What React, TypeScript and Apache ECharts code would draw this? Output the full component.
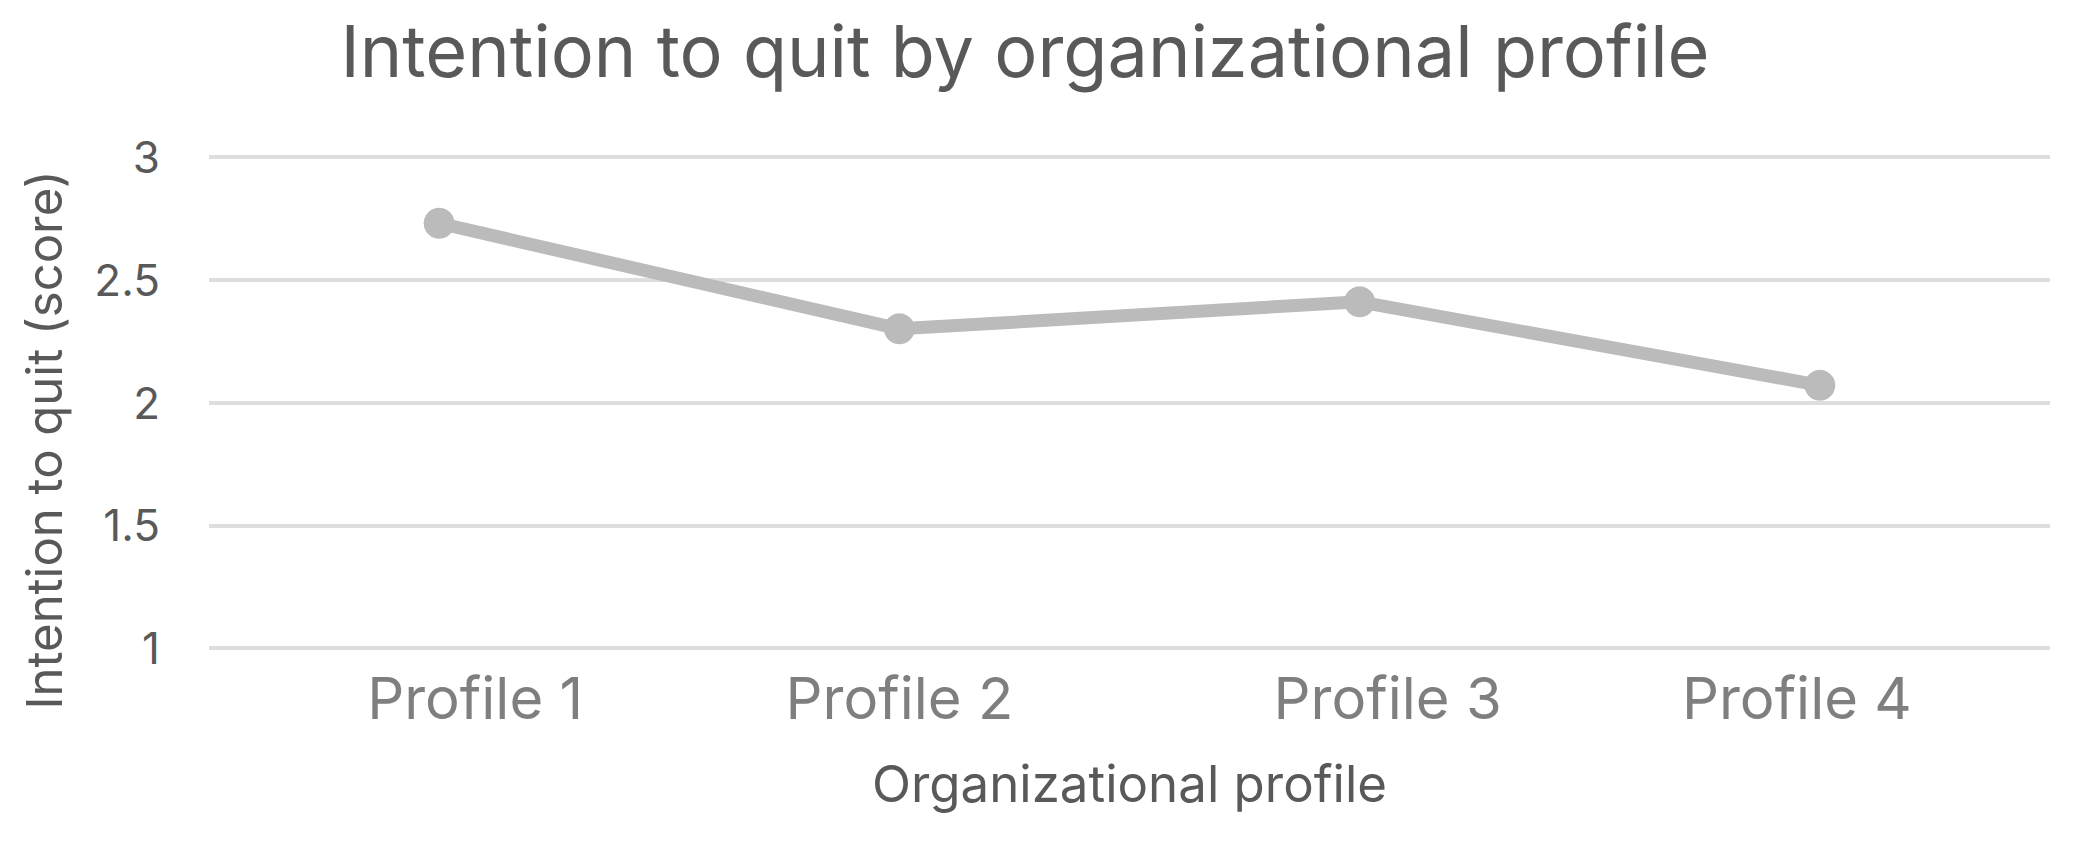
import React, { useEffect, useRef } from "react";
import * as echarts from "echarts";

const titleText = "Intention to quit by organizational profile";
const categories = ["Profile 1", "Profile 2", "Profile 3", "Profile 4"];
const scores = [2.73, 2.30, 2.41, 2.07];
const yTitle = "Intention to quit (score)";
const xTitle = "Organizational profile";
const yMin = 1;
const yMax = 3;
const yStep = 0.5;

// layout only: horizontal shift of each category label (px)
const labelShift = [36, 0, 28, -23];

const FONT = "Inter, 'Noto Sans', sans-serif";

export default function App() {
  const ref = useRef<HTMLDivElement>(null);
  useEffect(() => {
    if (!ref.current) return;
    const chart = echarts.init(ref.current, undefined, { renderer: "svg" });
    chart.setOption({
      animation: false,
      backgroundColor: "#ffffff",
      title: {
        text: titleText,
        left: 1025,
        top: 14,
        padding: 0,
        textAlign: "center",
        textStyle: { fontFamily: FONT, fontSize: 72, fontWeight: "normal", color: "#595959" },
      },
      grid: { left: 209, right: 23, top: 157, bottom: 193, containLabel: false },
      xAxis: {
        type: "category",
        boundaryGap: true,
        data: categories.map((c, i) => ({
          value: c,
          textStyle: {
            padding: labelShift[i] >= 0 ? [0, 0, 0, 2 * labelShift[i]] : [0, -2 * labelShift[i], 0, 0],
          },
        })),
        axisLine: { show: false },
        axisTick: { show: false },
        axisLabel: { interval: 0, margin: 21, fontFamily: FONT, fontSize: 58, color: "#7f7f7f" },
        name: xTitle,
        nameLocation: "middle",
        nameGap: 110,
        nameTextStyle: { fontFamily: FONT, fontSize: 51, color: "#595959" },
      },
      yAxis: {
        type: "value",
        min: yMin,
        max: yMax,
        interval: yStep,
        axisLine: { show: false },
        axisTick: { show: false },
        axisLabel: { margin: 49, fontFamily: FONT, fontSize: 44, color: "#595959" },
        splitLine: { lineStyle: { color: "#dedede", width: 4 } },
      },
      graphic: [
        {
          type: "text",
          x: 44,
          y: 440,
          rotation: Math.PI / 2,
          style: {
            text: yTitle,
            fontFamily: FONT,
            fontSize: 49,
            fill: "#595959",
            align: "center",
            verticalAlign: "middle",
          },
        },
      ],
      series: [
        {
          type: "line",
          data: scores,
          symbol: "circle",
          symbolSize: 31,
          lineStyle: { color: "#bbbbbb", width: 13 },
          itemStyle: { color: "#bbbbbb" },
          emphasis: { disabled: true },
        },
      ],
    });
    return () => chart.dispose();
  }, []);
  return (
    <div
      ref={ref}
      style={{ position: "fixed", left: 0, top: 0, width: 2073, height: 841, background: "#fff" }}
    />
  );
}
